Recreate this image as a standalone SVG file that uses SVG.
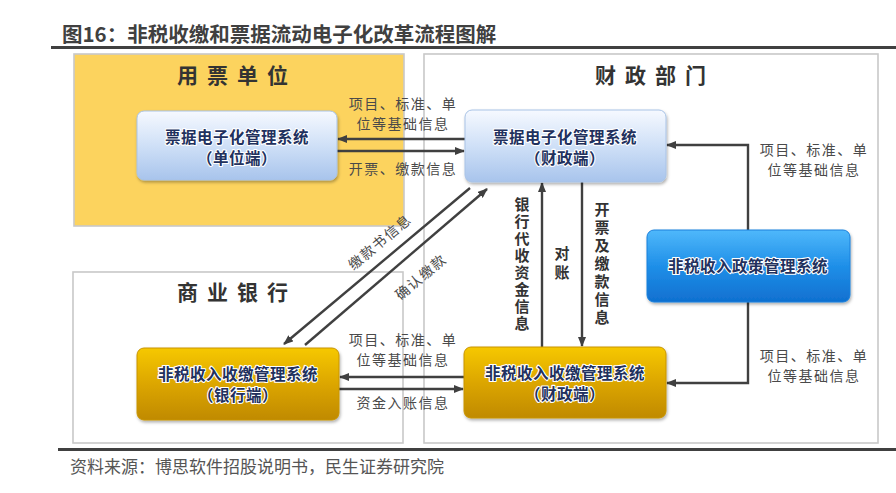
<svg xmlns="http://www.w3.org/2000/svg" width="896" height="493" viewBox="0 0 896 493">
<style>
.cjk{font-family:"Noto Sans CJK SC","Noto Sans",sans-serif}
.title{font-size:20.5px;font-weight:bold;fill:#404040}
.area{font-size:21px;font-weight:bold;fill:#333;letter-spacing:9px}
.node{font-size:15.5px;font-weight:bold;fill:#22315e;stroke:#fff;stroke-width:2.2px;paint-order:stroke;stroke-linejoin:round;letter-spacing:0.5px}
.lbl{font-size:14px;fill:#4a4a4a;letter-spacing:1.5px}
.vlbl{font-size:15px;font-weight:bold;fill:#333;writing-mode:vertical-rl;text-orientation:upright}
.conn{fill:none;stroke:#404040;stroke-width:2.4}
.frame{stroke:#c8c8c8;stroke-width:1.6}
</style>
<defs>
<linearGradient id="gBlue" x1="0" y1="0" x2="0" y2="1">
<stop offset="0" stop-color="#f6f9ff"/><stop offset="0.5" stop-color="#cfe0f7"/><stop offset="1" stop-color="#a8c4ec"/>
</linearGradient>
<linearGradient id="gGold" x1="0" y1="0" x2="0" y2="1">
<stop offset="0" stop-color="#f6c800"/><stop offset="0.5" stop-color="#dca600"/><stop offset="1" stop-color="#c08a00"/>
</linearGradient>
<linearGradient id="gPol" x1="0" y1="0" x2="0" y2="1">
<stop offset="0" stop-color="#4fb8fb"/><stop offset="0.5" stop-color="#1f8fe8"/><stop offset="1" stop-color="#1070d0"/>
</linearGradient>
<filter id="sh" x="-10%" y="-10%" width="120%" height="130%">
<feDropShadow dx="1" dy="2" stdDeviation="1.5" flood-color="#000" flood-opacity="0.3"/>
</filter>
<marker id="ah" markerWidth="10" markerHeight="8" refX="9" refY="4" orient="auto" markerUnits="userSpaceOnUse">
<path d="M0,0 L10,4 L0,8 Z" fill="#404040"/>
</marker>
</defs>
<rect width="896" height="493" fill="#fff"/>
<text class="cjk title" x="62" y="42">图16：非税收缴和票据流动电子化改革流程图解</text>
<rect x="51" y="46" width="845" height="3" fill="#404040"/>

<g id="area-unit">
<rect x="74" y="54" width="330" height="172" fill="#fcd35e" class="frame"/>
<text class="cjk area" x="237" y="83" text-anchor="middle">用票单位</text>
</g>
<g id="area-finance">
<rect x="424" y="54" width="454" height="389" fill="none" class="frame"/>
<text class="cjk area" x="655" y="83" text-anchor="middle">财政部门</text>
</g>
<g id="area-bank">
<rect x="73" y="272" width="330" height="171" fill="none" class="frame"/>
<text class="cjk area" x="237" y="300" text-anchor="middle">商业银行</text>
</g>

<g id="connectors">
<line class="conn" x1="465" y1="139" x2="338" y2="139" marker-end="url(#ah)"/>
<line class="conn" x1="337" y1="151" x2="464" y2="151" marker-end="url(#ah)"/>
<line class="conn" x1="464" y1="377" x2="340" y2="377" marker-end="url(#ah)"/>
<line class="conn" x1="339" y1="389" x2="463" y2="389" marker-end="url(#ah)"/>
<line class="conn" x1="542" y1="347" x2="542" y2="183" marker-end="url(#ah)"/>
<line class="conn" x1="582" y1="182" x2="582" y2="346" marker-end="url(#ah)"/>
<polyline class="conn" points="748,230 748,145 667,145" marker-end="url(#ah)"/>
<polyline class="conn" points="748,302 748,383 667,383" marker-end="url(#ah)"/>
<line class="conn" x1="470" y1="188" x2="284" y2="344" marker-end="url(#ah)"/>
<line class="conn" x1="305" y1="345" x2="487" y2="189" marker-end="url(#ah)"/>
<text class="cjk lbl" x="403" y="109" text-anchor="middle">项目、标准、单</text>
<text class="cjk lbl" x="403" y="129" text-anchor="middle">位等基础信息</text>
<text class="cjk lbl" x="403" y="174" text-anchor="middle">开票、缴款信息</text>
<text class="cjk lbl" x="403" y="345" text-anchor="middle">项目、标准、单</text>
<text class="cjk lbl" x="403" y="365" text-anchor="middle">位等基础信息</text>
<text class="cjk lbl" x="403" y="408" text-anchor="middle">资金入账信息</text>
<text class="cjk lbl" x="814" y="155" text-anchor="middle">项目、标准、单</text>
<text class="cjk lbl" x="814" y="175" text-anchor="middle">位等基础信息</text>
<text class="cjk lbl" x="814" y="361" text-anchor="middle">项目、标准、单</text>
<text class="cjk lbl" x="814" y="381" text-anchor="middle">位等基础信息</text>
<text class="cjk lbl" x="380" y="247" text-anchor="middle" transform="rotate(-40 380 242)">缴款书信息</text>
<text class="cjk lbl" x="421" y="282" text-anchor="middle" transform="rotate(-40 421 277)">确认缴款</text>
<text class="cjk vlbl" x="522" y="197" style="letter-spacing:2px">银行代收资金信息</text>
<text class="cjk vlbl" x="562" y="246" style="letter-spacing:4px">对账</text>
<text class="cjk vlbl" x="602" y="202" style="letter-spacing:3px">开票及缴款信息</text>
</g>

<g id="node-unit">
<rect x="137" y="111" width="200" height="69" rx="7" fill="url(#gBlue)" stroke="#a9c3e6" filter="url(#sh)"/>
<text class="cjk node" x="237" y="143" text-anchor="middle">票据电子化管理系统</text>
<text class="cjk node" x="237" y="164" text-anchor="middle">（单位端）</text>
</g>
<g id="node-finance-ticket">
<rect x="465" y="110" width="201" height="72" rx="7" fill="url(#gBlue)" stroke="#a9c3e6" filter="url(#sh)"/>
<text class="cjk node" x="565" y="143" text-anchor="middle">票据电子化管理系统</text>
<text class="cjk node" x="565" y="164" text-anchor="middle">（财政端）</text>
</g>
<g id="node-policy">
<rect x="647" y="230" width="203" height="72" rx="7" fill="url(#gPol)" stroke="#1a80dc" filter="url(#sh)"/>
<text class="cjk node" x="748" y="272" text-anchor="middle">非税收入政策管理系统</text>
</g>
<g id="node-bank">
<rect x="137" y="348" width="202" height="72" rx="7" fill="url(#gGold)" stroke="#c89400" filter="url(#sh)"/>
<text class="cjk node" x="238" y="380" text-anchor="middle">非税收入收缴管理系统</text>
<text class="cjk node" x="238" y="401" text-anchor="middle">（银行端）</text>
</g>
<g id="node-finance-collect">
<rect x="464" y="347" width="202" height="71" rx="7" fill="url(#gGold)" stroke="#c89400" filter="url(#sh)"/>
<text class="cjk node" x="565" y="379" text-anchor="middle">非税收入收缴管理系统</text>
<text class="cjk node" x="565" y="400" text-anchor="middle">（财政端）</text>
</g>

<rect x="58" y="448" width="838" height="3" fill="#404040"/>
<text class="cjk" x="70" y="473" font-size="17" fill="#555">资料来源：博思软件招股说明书，民生证券研究院</text>
</svg>
